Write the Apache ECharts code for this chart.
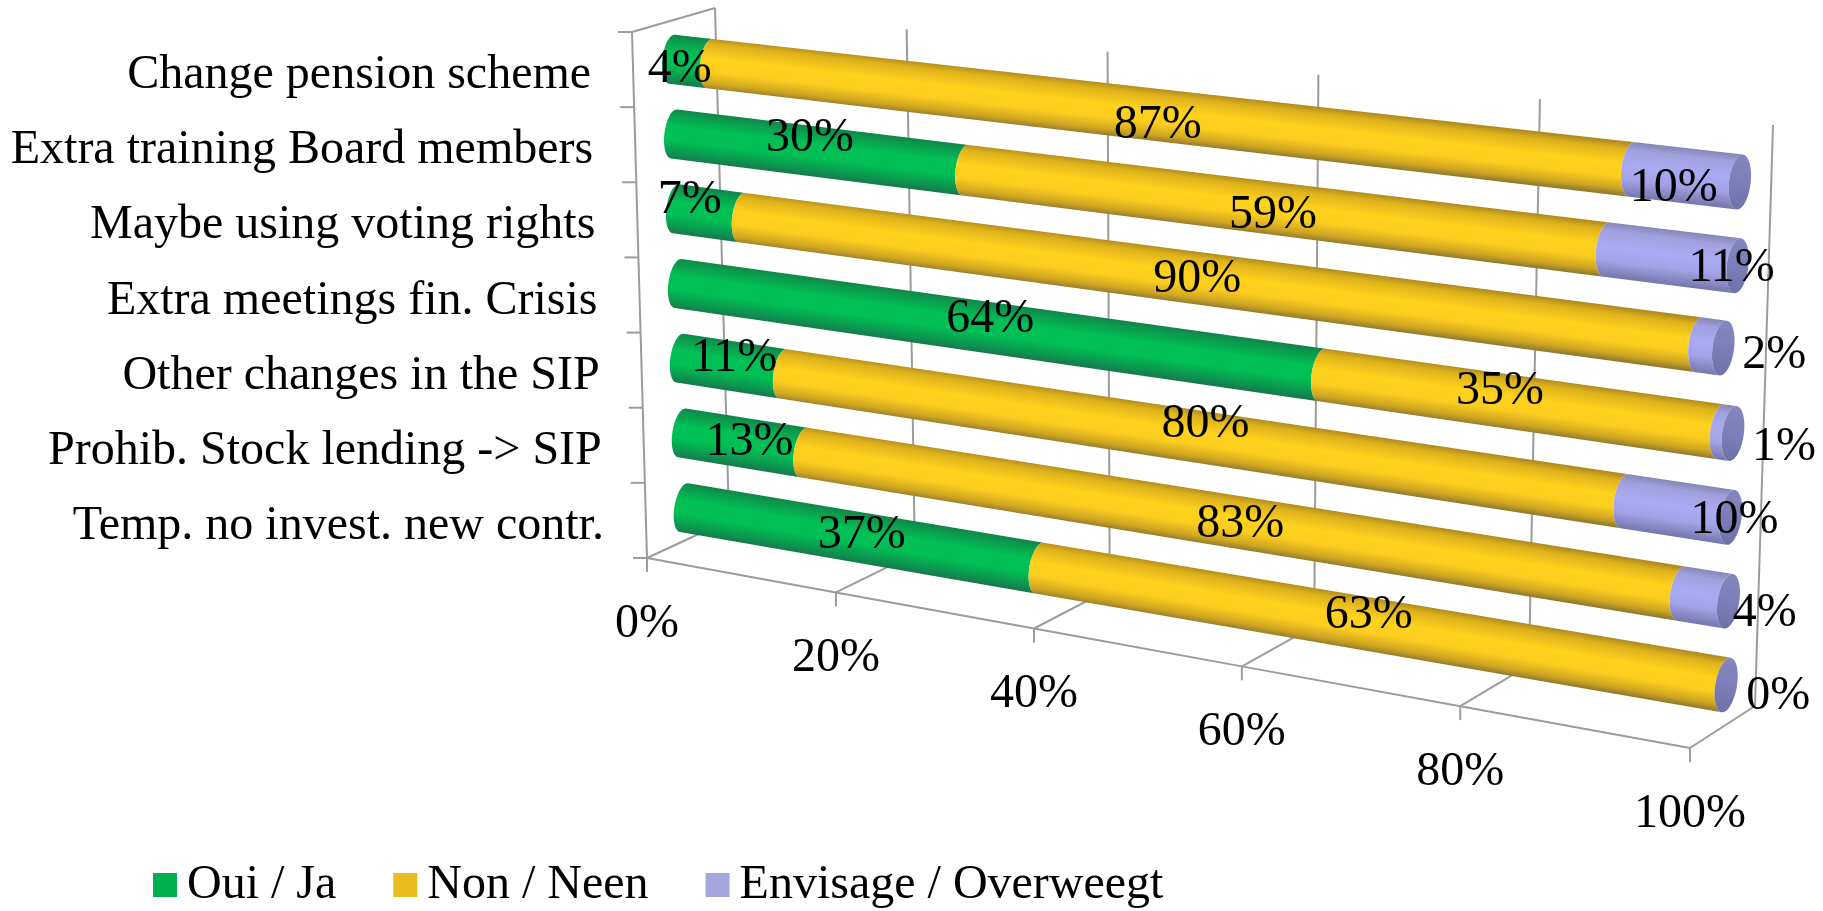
<!DOCTYPE html>
<html>
<head>
<meta charset="utf-8">
<style>html,body{margin:0;padding:0;background:#fff}#c{width:1823px;height:911px}</style>
<script src="https://cdn.jsdelivr.net/npm/echarts@6/dist/echarts.min.js"></script>
</head>
<body>
<div id="c"></div>
<script>
// ---- data ----
const categories = ['Change pension scheme','Extra training Board members','Maybe using voting rights','Extra meetings fin. Crisis','Other changes in the SIP','Prohib. Stock lending -> SIP','Temp. no invest. new contr.'];
const oui = [4,30,7,64,11,13,37];
const non = [87,59,90,35,80,83,63];
const envisage = [10,11,2,1,10,4,0];
const seriesNames = ['Oui / Ja','Non / Neen','Envisage / Overweegt'];
const xTicks = [0,20,40,60,80,100];

// ---- label nudges from the segment centre, in pixels (the source chart moved labels by hand) ----
const ouiNudge = [[-11,8],[-7,-13],[-19,-13],[3,-8],[3,-8],[7,0],[4,-2]];
const nonNudge = [[12,12],[-1,7],[4,2],[-17,-11],[23,-10],[21,5],[0,-9]];
const envNudge = [[-12,13],[60,11],[63,9],[57,15],[57,11],[60,16],[52,11]];

// ---- the hidden cartesian grid the scales work in ----
const GRID = {left:100, top:100, width:1000, height:600};

// ---- oblique view of that grid ----
const FONT = '48px "Liberation Serif", "Times New Roman", serif';
const GREY = '#9c9c9c';
const KF = 1.13, KB = 1.135;
const persp = (u,k) => u/(u+k*(1-u));
const lerp = (a,b,t) => [a[0]+(b[0]-a[0])*t, a[1]+(b[1]-a[1])*t];
const BAR = {tl:[671,22], bl:[685,545], tr:[1741,140], br:[1725,727]};
const FR = {a:[647,558], b:[1690,748], c:[729,520], d:[1755,706], e:[632,32], f:[715,8], g:[1773,125]};
const barPt = (u,v) => lerp(lerp(BAR.tl,BAR.bl,v), lerp(BAR.tr,BAR.br,v), persp(u,KB));
const normU = px => (px-GRID.left)/GRID.width;
const normV = py => (py-GRID.top)/GRID.height;

function stops(list){ return list.map(s=>({offset:s[0],color:s[1]})); }
const fills = [
  stops([[0,'#0f8549'],[.12,'#0b9c4e'],[.36,'#00c155'],[.62,'#00bf55'],[.86,'#0b984f'],[1,'#17794d']]),
  stops([[0,'#b08c1e'],[.12,'#deb21b'],[.4,'#ffd21d'],[.66,'#fbcd1f'],[.88,'#d0a621'],[1,'#947c2c']]),
  stops([[0,'#8686b4'],[.15,'#a0a0de'],[.45,'#aaaaf4'],[.7,'#a2a2e6'],[1,'#7676ac']])
];
const capFill = stops([[0,'#8587bd'],[.5,'#7b7eb8'],[1,'#6f72a8']]);

function frameAt(u,v){
  const p = barPt(u,v);
  const bh = 1/categories.length/2;
  const band = barPt(u,v+bh)[1]-barPt(u,v-bh)[1];
  const r = 0.33*band;
  const a = barPt(0,v), b = barPt(1,v);
  const len = Math.hypot(b[0]-a[0],b[1]-a[1]);
  const t = [(b[0]-a[0])/len,(b[1]-a[1])/len];
  const n = [t[1],-t[0]];
  return {p,r,rx:0.39*r,t,n};
}
function ellipsePts(f,from,to,steps){
  const out=[];
  for(let i=0;i<=steps;i++){
    const th=(from+(to-from)*i/steps)*Math.PI/180;
    out.push([f.p[0]+f.n[0]*f.r*Math.sin(th)+f.t[0]*f.rx*Math.cos(th),
              f.p[1]+f.n[1]*f.r*Math.sin(th)+f.t[1]*f.rx*Math.cos(th)]);
  }
  return out;
}
function textEl(text,x,y,align){
  return {type:'text',silent:true,style:{text,x,y,font:FONT,fill:'#000',
    align:align,verticalAlign:'middle',textAlign:align,textVerticalAlign:'middle',textBaseline:'middle'}};
}
function lineEl(p,q,w){
  return {type:'line',silent:true,shape:{x1:p[0],y1:p[1],x2:q[0],y2:q[1]},style:{stroke:GREY,lineWidth:w||2,fill:null}};
}

// ---- stacked rows, clamped to the 100% axis ----
const rows = categories.map((c,i)=>{
  const a=oui[i], b=a+non[i], d=Math.min(100,b+envisage[i]);
  return [[0,a],[a,b],[b,d]];
});

function renderSegment(sIdx){
  return function(params,api){
    const i=api.value(2);
    const ca=api.coord([api.value(0),i]), cb=api.coord([api.value(1),i]);
    const v=normV(ca[1]);
    const A=frameAt(normU(ca[0]),v), B=frameAt(normU(cb[0]),v);
    const pts=ellipsePts(B,90,270,20).concat(ellipsePts(A,270,90,20));
    const m=[(A.p[0]+B.p[0])/2,(A.p[1]+B.p[1])/2], r=(A.r+B.r)/2;
    const grad=new echarts.graphic.LinearGradient(m[0]+A.n[0]*r,m[1]+A.n[1]*r,m[0]-A.n[0]*r,m[1]-A.n[1]*r,fills[sIdx],true);
    const kids=[{type:'polygon',silent:true,shape:{points:pts},style:{fill:grad}}];
    if(sIdx===2){
      const gc=new echarts.graphic.LinearGradient(B.p[0]+B.n[0]*B.r,B.p[1]+B.n[1]*B.r,B.p[0]-B.n[0]*B.r,B.p[1]-B.n[1]*B.r,capFill,true);
      kids.push({type:'polygon',silent:true,shape:{points:ellipsePts(B,0,360,40)},style:{fill:gc}});
    }
    return {type:'group',children:kids};
  };
}

const valueArrays=[oui,non,envisage], nudges=[ouiNudge,nonNudge,envNudge];
const labelRows=[];
categories.forEach((c,i)=>rows[i].forEach((seg,s)=>labelRows.push([seg[0],seg[1],i,valueArrays[s][i],s])));

const option={
  animation:false,
  backgroundColor:'#fff',
  color:['#00b050','#e9bd1d','#a6a6de'],
  grid:GRID,
  xAxis:{type:'value',min:0,max:100,interval:20,show:false},
  yAxis:{type:'category',data:categories,inverse:true,show:false},
  legend:{
    data:seriesNames,left:153,top:861,padding:0,itemWidth:24,itemHeight:24,itemGap:57,selectedMode:false,icon:'rect',
    textStyle:{fontFamily:'"Liberation Serif", "Times New Roman", serif',fontSize:48,color:'#000',padding:[0,0,0,5]}
  },
  series:[
    // value axis: floor lines, back-wall gridlines, ticks and tick labels
    {type:'custom',name:'xFrame',z:1,silent:true,encode:{x:0},data:xTicks.map(t=>[t]),
     renderItem(params,api){
       const val=api.value(0);
       const u=normU(api.coord([val,0])[0]);
       const s=persp(u,KF);
       const front=lerp(FR.a,FR.b,s), back=lerp(FR.c,FR.d,s), top=lerp(FR.f,FR.g,s);
       const kids=[lineEl(front,back),lineEl(back,top),lineEl(front,[front[0],front[1]+14])];
       const nextIdx=params.dataIndex+1;
       if(nextIdx<xTicks.length){
         const s2=persp(normU(api.coord([xTicks[nextIdx],0])[0]),KF);
         kids.push(lineEl(front,lerp(FR.a,FR.b,s2)));
       }
       kids.push(textEl(val+'%',front[0],front[1]+66,'center'));
       return {type:'group',children:kids};
     }},
    // category axis: left wall, ticks and labels
    {type:'custom',name:'yFrame',z:1,silent:true,encode:{y:1},data:categories.map((c,i)=>[0,i]),
     renderItem(params,api){
       const i=api.value(1);
       const py=api.coord([0,i])[1], half=api.size([0,1])[1]/2;
       const vTop=normV(py-half), vMid=normV(py), vBot=normV(py+half);
       const left=v=>lerp(FR.e,FR.a,v);
       const pT=left(vTop), pB=left(vBot), pM=left(vMid);
       const kids=[lineEl(pT,pB),lineEl(pT,[pT[0]-14,pT[1]])];
       if(i===categories.length-1) kids.push(lineEl(pB,[pB[0]-14,pB[1]]));
       if(i===0) kids.push(lineEl(FR.e,FR.f));
       kids.push(textEl(categories[i],pM[0]-42,pM[1]+6,'right'));
       return {type:'group',children:kids};
     }},
    ...seriesNames.map((name,s)=>({
      type:'custom',name,z:2,silent:true,encode:{x:[0,1],y:2},
      itemStyle:{color:['#00b050','#e9bd1d','#a6a6de'][s]},
      data:categories.map((c,i)=>[rows[i][s][0],rows[i][s][1],i]),
      renderItem:renderSegment(s)
    })),
    // value labels above every bar
    {type:'custom',name:'valueLabels',z:5,silent:true,encode:{x:[0,1],y:2},data:labelRows,
     renderItem(params,api){
       const i=api.value(2), s=api.value(4);
       const c=api.coord([(api.value(0)+api.value(1))/2,i]);
       const p=barPt(normU(c[0]),normV(c[1]));
       const nd=nudges[s][i];
       return textEl(api.value(3)+'%',p[0]+nd[0],p[1]+nd[1],'center');
     }}
  ]
};
const chart=echarts.init(document.getElementById('c'),null,{renderer:'canvas'});
chart.setOption(option);
</script>
</body>
</html>
